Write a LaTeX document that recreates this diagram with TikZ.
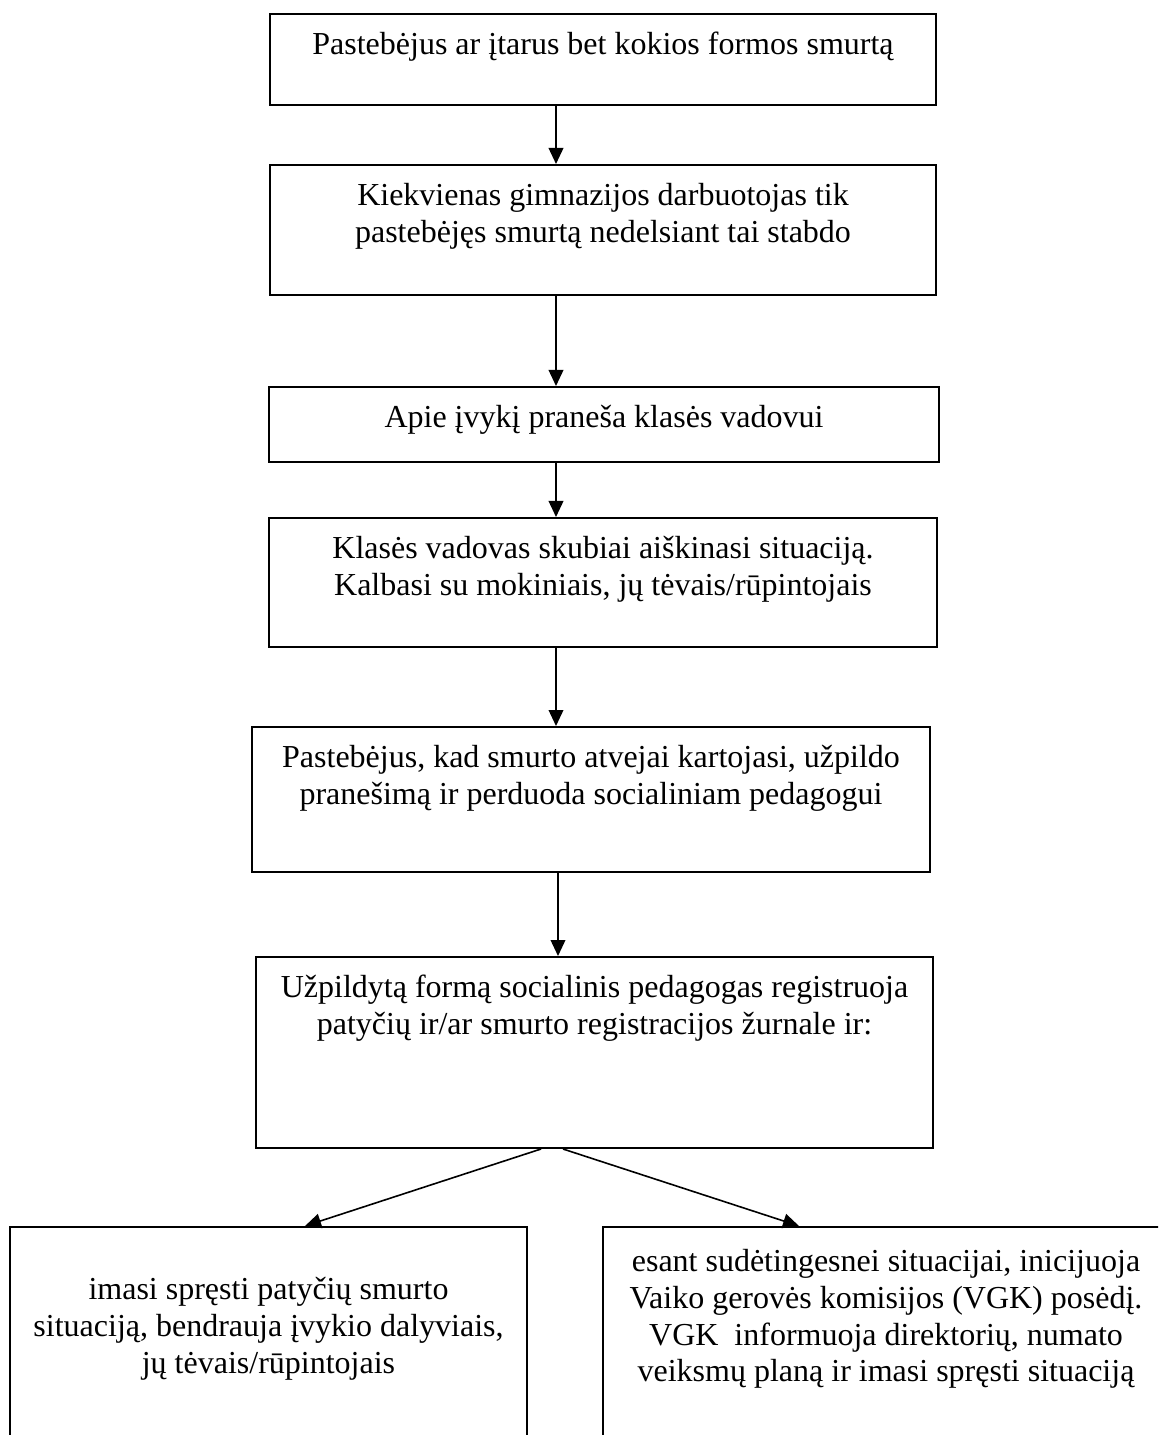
\documentclass[tikz,border=0pt]{standalone}
\usepackage{fontspec}
\setmainfont{Liberation Serif}
\usetikzlibrary{arrows.meta, positioning}

\newlength\pxu
\setlength\pxu{0.375pt}

\begin{document}
\begin{tikzpicture}[
    x=\pxu, y=-\pxu, % one unit is one pixel of the scan
    >={Triangle[length=6pt, width=5.5pt]},
    every node/.style={font={\fontsize{12}{13.8}\selectfont}},
    box/.style={draw, line width=0.75pt, anchor=north west, inner sep=0pt},
    txt/.style={align=center, inner sep=0pt},
    flow/.style={->, line width=0.6pt},
  ]
  \useasboundingbox (0,0) rectangle (1158,1435);
  \clip (0,0) rectangle (1158,1435);

  % boxes
  \node[box, minimum width=666\pxu, minimum height=91\pxu]  (b1) at (269,13) {};
  \node[box, minimum width=666\pxu, minimum height=130\pxu] (b2) at (269,164) {};
  \node[box, minimum width=670\pxu, minimum height=75\pxu]  (b3) at (268,386) {};
  \node[box, minimum width=668\pxu, minimum height=129\pxu] (b4) at (268,517) {};
  \node[box, minimum width=678\pxu, minimum height=145\pxu] (b5) at (251,726) {};
  \node[box, minimum width=677\pxu, minimum height=191\pxu] (b6) at (255,956) {};
  \node[box, minimum width=517\pxu, minimum height=240\pxu] (b7) at (9,1226) {};
  \node[box, minimum width=566\pxu, minimum height=240\pxu] (b8) at (602,1226) {};

  % texts
  \node[txt, below=7pt of b1.north] (t1) {Pastebėjus ar įtarus bet kokios formos smurtą};
  \node[txt, below=7pt of b2.north] (t2) {Kiekvienas gimnazijos darbuotojas tik\\
    pastebėjęs smurtą nedelsiant tai stabdo};
  \node[txt, below=7pt of b3.north] (t3) {Apie įvykį praneša klasės vadovui};
  \node[txt, below=7pt of b4.north] (t4) {Klasės vadovas skubiai aiškinasi situaciją.\\
    Kalbasi su mokiniais, jų tėvais/rūpintojais};
  \node[txt, below=7pt of b5.north] (t5) {Pastebėjus, kad smurto atvejai kartojasi, užpildo\\
    pranešimą ir perduoda socialiniam pedagogui};
  \node[txt, below=7pt of b6.north] (t6) {Užpildytą formą socialinis pedagogas registruoja\\
    patyčių ir/ar smurto registracijos žurnale ir:};
  \node[txt, below=19pt of b7.north] (t7) {imasi spręsti patyčių smurto\\
    situaciją, bendrauja įvykio dalyviais,\\
    jų tėvais/rūpintojais};
  \node[txt, below=8.5pt of b8.north] (t8) {esant sudėtingesnei situacijai, inicijuoja\\
    Vaiko gerovės komisijos (VGK) posėdį.\\
    VGK\ \ informuoja direktorių, numato\\
    veiksmų planą ir imasi spręsti situaciją};

  % connectors
  \coordinate (ax) at (556,0);
  \coordinate (bx) at (558,0);
  \coordinate (sl) at (541,0);
  \coordinate (sr) at (563,0);
  \coordinate (el) at (305,0);
  \coordinate (er) at (799,0);

  \draw[flow] (b1.south -| ax) -- (b2.north -| ax);
  \draw[flow] (b2.south -| ax) -- (b3.north -| ax);
  \draw[flow] (b3.south -| ax) -- (b4.north -| ax);
  \draw[flow] (b4.south -| ax) -- (b5.north -| ax);
  \draw[flow] (b5.south -| bx) -- (b6.north -| bx);
  \draw[flow] (b6.south -| sl) -- (b7.north -| el);
  \draw[flow] (b6.south -| sr) -- (b8.north -| er);

\end{tikzpicture}
\end{document}
